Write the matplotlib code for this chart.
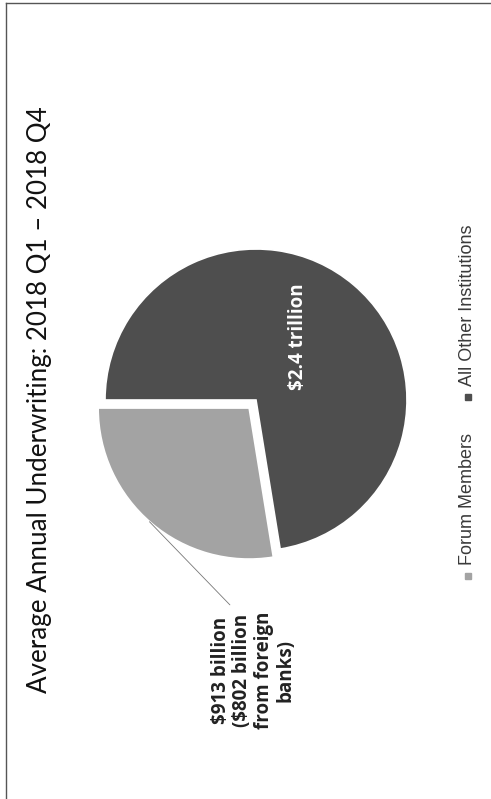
import matplotlib.pyplot as plt
from matplotlib.lines import Line2D
import numpy as np

# average annual underwriting, 2018 Q1 - 2018 Q4 (billions of dollars)
segments = ["Forum Members", "All Other Institutions"]
underwriting_bn = [913, 2400]
foreign_banks_bn = 802
colors = ["#a3a3a3", "#4e4e4e"]

W, H = 491, 799
fig = plt.figure(figsize=(W / 100, H / 100), dpi=100)

# pie axes: circle centred at (256, 400) px, radius 151 px
cx, cy, r = 256, 400, 151
half = r * 1.2
ax = fig.add_axes([(cx - half) / W, (H - cy - half) / H, 2 * half / W, 2 * half / H])

wedges, _ = ax.pie(underwriting_bn, colors=colors, startangle=180, counterclock=True,
                   explode=[0.07, 0], radius=1,
                   wedgeprops=dict(edgecolor="white", linewidth=1.2))
ax.set_aspect("equal")
ax.set_xlim(-1.2, 1.2)
ax.set_ylim(-1.2, 1.2)
ax.axis("off")

# label inside the big slice
ax.text(0.28, 0.42, f"${underwriting_bn[1] / 1000:.1f} trillion", rotation=90,
        ha="center", va="center", color="white", fontsize=13.5,
        fontweight="bold", family="Open Sans")

# leader line and label for the forum members slice
w = wedges[0]
ang = np.deg2rad(227.7)
px = w.center[0] + np.cos(ang)
py = w.center[1] + np.sin(ang)
ax.annotate("", xy=(px, py), xytext=(-0.16, -1.37),
            arrowprops=dict(arrowstyle="-", color="#777777", lw=0.6),
            annotation_clip=False)
ax.text(-0.02, -1.79,
        f"${underwriting_bn[0]} billion\n(${foreign_banks_bn} billion\nfrom foreign\nbanks)",
        rotation=90, ha="center", va="center", multialignment="center",
        fontsize=13.5, fontweight="bold", family="Open Sans", color="#222222",
        linespacing=1.1, clip_on=False)

# title
fig.text(40 / W, 1 - 400 / H, "Average Annual Underwriting: 2018 Q1 \u2013 2018 Q4",
         rotation=90, ha="center", va="center", fontsize=18.7, family="Lato",
         fontweight="normal", color="#111111")

# legend, drawn rotated along the right edge
leg_x = 468 / W
marker_y = [576, 397]
for label, col, my in zip(segments, colors, marker_y):
    fig.add_artist(Line2D([leg_x], [1 - my / H], marker="s", markersize=4.5,
                          color=col, transform=fig.transFigure))
    fig.text(leg_x, 1 - (my - 11) / H, label, rotation=90, ha="center", va="bottom",
             fontsize=13, family="Liberation Sans", color="#3a3a3a")

# frame lines on the left and top
fig.add_artist(Line2D([6 / W, 6 / W], [0, 1 - 3 / H], color="#555555", lw=1,
                      transform=fig.transFigure))
fig.add_artist(Line2D([6 / W, 1], [1 - 3 / H, 1 - 3 / H], color="#555555", lw=1,
                      transform=fig.transFigure))

fig.savefig("out.png", dpi=100, facecolor="white")
